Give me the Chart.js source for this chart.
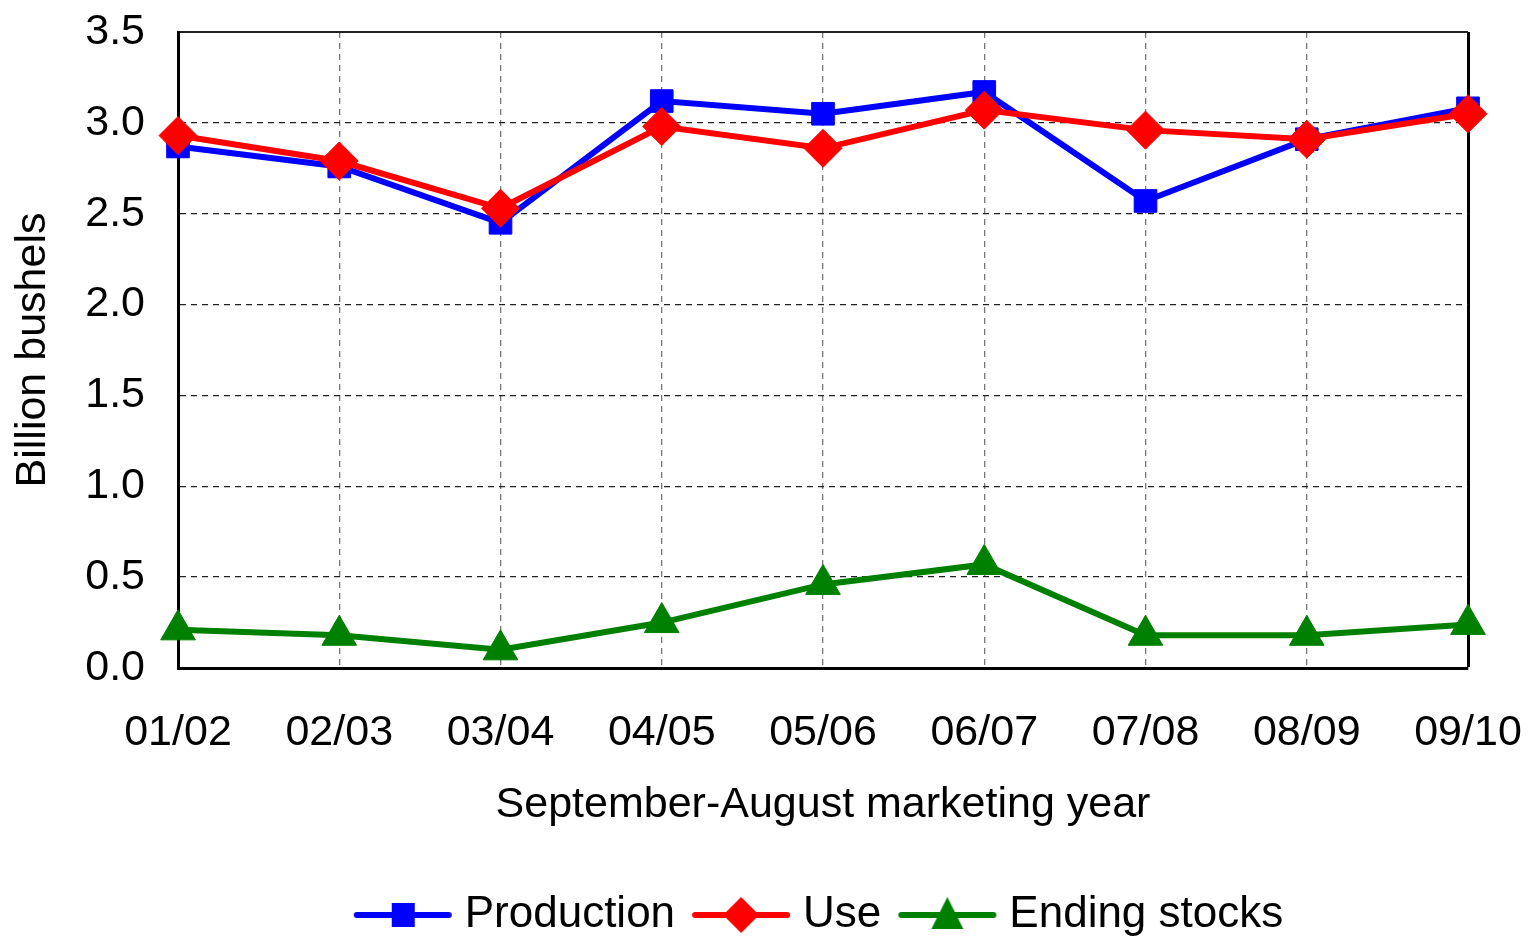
<!DOCTYPE html>
<html>
<head>
<meta charset="utf-8">
<script src="https://cdn.jsdelivr.net/npm/chart.js@4/dist/chart.umd.min.js"></script>
<style>
  html, body { margin: 0; padding: 0; background: #fff; }
  #myCanvas { display: block; }
</style>
</head>
<body>
<canvas id="myCanvas" width="1537" height="939"></canvas>
<script>
// marketing years (Sept-Aug)
var years = ['01/02', '02/03', '03/04', '04/05', '05/06', '06/07', '07/08', '08/09', '09/10'];
// billion bushels
var production = [2.87, 2.76, 2.45, 3.12, 3.05, 3.17, 2.57, 2.91, 3.08];
var use = [2.93, 2.79, 2.53, 2.98, 2.86, 3.07, 2.96, 2.91, 3.05];
var endingStocks = [0.21, 0.18, 0.10, 0.25, 0.46, 0.57, 0.18, 0.18, 0.24];
var yTicks = [0, 0.5, 1.0, 1.5, 2.0, 2.5, 3.0, 3.5];

var FONT = '"Liberation Sans", Arial, sans-serif';
var FS = 43;

// little line + marker pictures for the legend
function legendIcon(color, shape){
  var c = document.createElement('canvas');
  c.width = 100; c.height = 40;
  var g = c.getContext('2d');
  g.strokeStyle = color;
  g.fillStyle = color;
  g.lineWidth = 6;
  g.lineCap = 'round';
  g.beginPath(); g.moveTo(4, 20); g.lineTo(96, 20); g.stroke();
  g.beginPath();
  if (shape == 'rect') {
    g.rect(39, 8, 23, 24);
  } else if (shape == 'diamond') {
    g.moveTo(50, 2); g.lineTo(68, 20); g.lineTo(50, 38); g.lineTo(32, 20);
  } else {
    g.moveTo(50, 2); g.lineTo(66, 34); g.lineTo(34, 34);
  }
  g.closePath(); g.fill();
  return c;
}
var icons = [legendIcon('#0000ff', 'rect'), legendIcon('#ff0000', 'diamond'), legendIcon('#008000', 'tri')];

var chardata = {
  labels: years,
  datasets: [
    {
      label: 'Production',
      data: production,
      borderColor: '#0000ff',
      backgroundColor: '#0000ff',
      borderWidth: 6,
      pointStyle: 'rect',
      pointRadius: 16,
      pointBorderWidth: 1,
      order: 1
    },
    {
      label: 'Use',
      data: use,
      borderColor: '#ff0000',
      backgroundColor: '#ff0000',
      borderWidth: 6,
      pointStyle: 'rectRot',
      pointRadius: 19,
      pointBorderWidth: 1,
      order: 0
    },
    {
      label: 'Ending stocks',
      data: endingStocks,
      borderColor: '#008000',
      backgroundColor: '#008000',
      borderWidth: 6,
      pointStyle: 'triangle',
      pointRadius: 20,
      pointBorderWidth: 1,
      order: 2
    }
  ]
};

var ctx = document.getElementById('myCanvas');
var lineGraph = new Chart(ctx, {
  type: 'line',
  data: chardata,
  options: {
    responsive: false,
    animation: false,
    clip: false,
    layout: { padding: { left: 0, top: 32, right: 69, bottom: 0 } },
    elements: { line: { tension: 0 } },
    plugins: {
      tooltip: { enabled: false },
      legend: {
        position: 'bottom',
        fullSize: false,
        maxHeight: 72,
        labels: {
          usePointStyle: true,
          pointStyleWidth: 80,
          padding: 26,
          color: '#000',
          font: { family: FONT, size: 44 },
          generateLabels: function(chart){
            return chart.data.datasets.map(function(ds, i){
              return {
                text: ds.label,
                pointStyle: icons[i],
                fillStyle: ds.backgroundColor,
                strokeStyle: ds.borderColor,
                lineWidth: 0,
                fontColor: '#000',
                datasetIndex: i
              };
            });
          }
        }
      }
    },
    scales: {
      x: {
        type: 'category',
        offset: false,
        afterFit: function(scale){ scale.height = 199; },
        grid: {
          offset: false,
          drawTicks: true,
          tickLength: 39,
          tickColor: 'rgba(0,0,0,0)',
          lineWidth: function(c){ return c.index == years.length - 1 ? 3 : 1.3; },
          color: function(c){ return c.index == years.length - 1 ? '#000' : '#777'; }
        },
        border: {
          display: true,
          color: '#000',
          width: 3,
          dash: function(c){ return c.index == years.length - 1 ? [] : [6, 5]; }
        },
        ticks: {
          padding: 0,
          color: '#000',
          maxRotation: 0,
          font: { family: FONT, size: FS }
        },
        title: {
          display: true,
          text: 'September-August marketing year',
          color: '#000',
          font: { family: FONT, size: FS },
          padding: { top: 0, bottom: 36 }
        }
      },
      y: {
        min: 0,
        max: 3.5,
        afterFit: function(scale){ scale.width = 178; },
        afterBuildTicks: function(scale){
          scale.ticks = yTicks.map(function(v){ return { value: v }; });
        },
        grid: {
          drawTicks: true,
          tickLength: 33,
          tickColor: 'rgba(0,0,0,0)',
          lineWidth: function(c){ return c.tick && c.tick.value == 3.5 ? 2 : 1.3; },
          color: '#222'
        },
        border: {
          display: true,
          color: '#000',
          width: 3,
          dash: function(c){ return c.tick && c.tick.value == 3.5 ? [] : [6, 5]; }
        },
        ticks: {
          padding: 0,
          color: '#000',
          font: { family: FONT, size: FS },
          callback: function(v){ return Number(v).toFixed(1); }
        },
        title: {
          display: true,
          text: 'Billion bushels',
          color: '#000',
          font: { family: FONT, size: FS },
          padding: { top: 7, bottom: 0 }
        }
      }
    }
  }
});
</script>
</body>
</html>
